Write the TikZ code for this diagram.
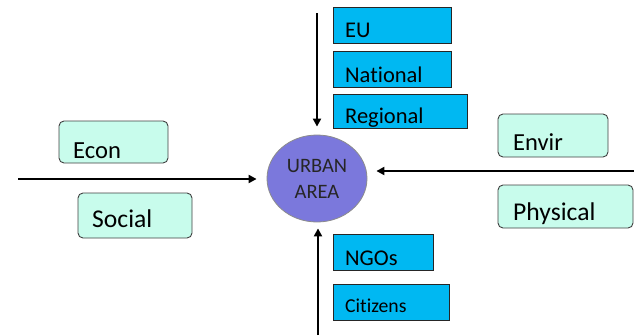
\documentclass[tikz,border=0pt]{standalone}
\usepackage{fontspec}
\setmainfont{Carlito}[RawFeature={-liga;-dlig;-clig}]
\usetikzlibrary{arrows.meta,shapes.geometric}
\definecolor{skyb}{HTML}{00B8F2}
\definecolor{mint}{HTML}{C8FCEC}
\definecolor{urb}{HTML}{7B78DC}
\newcommand{\fs}[1]{\fontsize{#1}{#1}\selectfont}
\begin{document}
\begin{tikzpicture}[x=1pt,y=-1pt,
  bluebox/.style={draw=black!85, fill=skyb, line width=0.9pt, rectangle, inner sep=0pt},
  mintbox/.style={draw=black!75, fill=mint, rounded corners=5pt, line width=0.9pt, rectangle, inner sep=0pt},
  lbl/.style={anchor=base west, inner sep=0pt, text=black},
  arr/.style={-{Triangle[length=8pt,width=8pt]}, line width=2pt}]
\useasboundingbox (0,0) rectangle (634,335);

% central ellipse
\node[ellipse, draw=black!45, fill=urb, line width=0.8pt, minimum width=100pt, minimum height=87pt, inner sep=0pt] (circ) at (317,178.5) {};
\node[anchor=base, inner sep=0pt, text=black!85] (urban) at (317,172) {\fs{20.5}URBAN};
\node[anchor=base, inner sep=0pt, text=black!85] (area) at (317,198) {\fs{20.5}AREA};

% blue boxes
\node[bluebox, minimum width=118pt, minimum height=36pt] (eu) at (392,25) {};
\node[bluebox, minimum width=118pt, minimum height=36pt] (nat) at (392,69) {};
\node[bluebox, minimum width=134pt, minimum height=34pt] (reg) at (400,111) {};
\node[bluebox, minimum width=100pt, minimum height=36pt] (ngo) at (383,252) {};
\node[bluebox, minimum width=116pt, minimum height=36pt] (cit) at (391,302) {};
\node[lbl] (eut) at (345,37) {\fs{22.5}EU};
\node[lbl] (natt) at (345,82) {\fs{22.5}National};
\node[lbl] (regt) at (345,123) {\fs{22.5}Regional};
\node[lbl] (ngot) at (345,265) {\fs{22.5}NGOs};
\node[lbl] (citt) at (345,312) {\fs{19.7}Citizens};

% mint boxes
\node[mintbox, minimum width=109pt, minimum height=42pt] (econ) at (113.5,142) {};
\node[mintbox, minimum width=114pt, minimum height=45pt] (soc) at (135,215.5) {};
\node[mintbox, minimum width=110pt, minimum height=43pt] (env) at (553,135.5) {};
\node[mintbox, minimum width=135pt, minimum height=43pt] (phy) at (565.5,206.5) {};
\node[lbl] (econt) at (73,158) {\fs{24.6}Econ};
\node[lbl] (soct) at (92,227) {\fs{25.6}Social};
\node[lbl] (envt) at (513,150) {\fs{24.5}Envir};
\node[lbl] (phyt) at (513,220) {\fs{25.6}Physical};

% arrows
\coordinate (ts) at (317,13);
\coordinate (bs) at (318,335);
\coordinate (ls) at (18,179);
\coordinate (rs) at (634,171);
\draw[arr, shorten >=8pt] (ts) -- (ts |- circ.north);
\draw[arr, shorten >=6pt] (bs) -- (bs |- circ.south);
\draw[arr, shorten >=10pt] (ls) -- (ls -| circ.west);
\draw[arr, shorten >=9pt] (rs) -- (rs -| circ.east);
\end{tikzpicture}
\end{document}
